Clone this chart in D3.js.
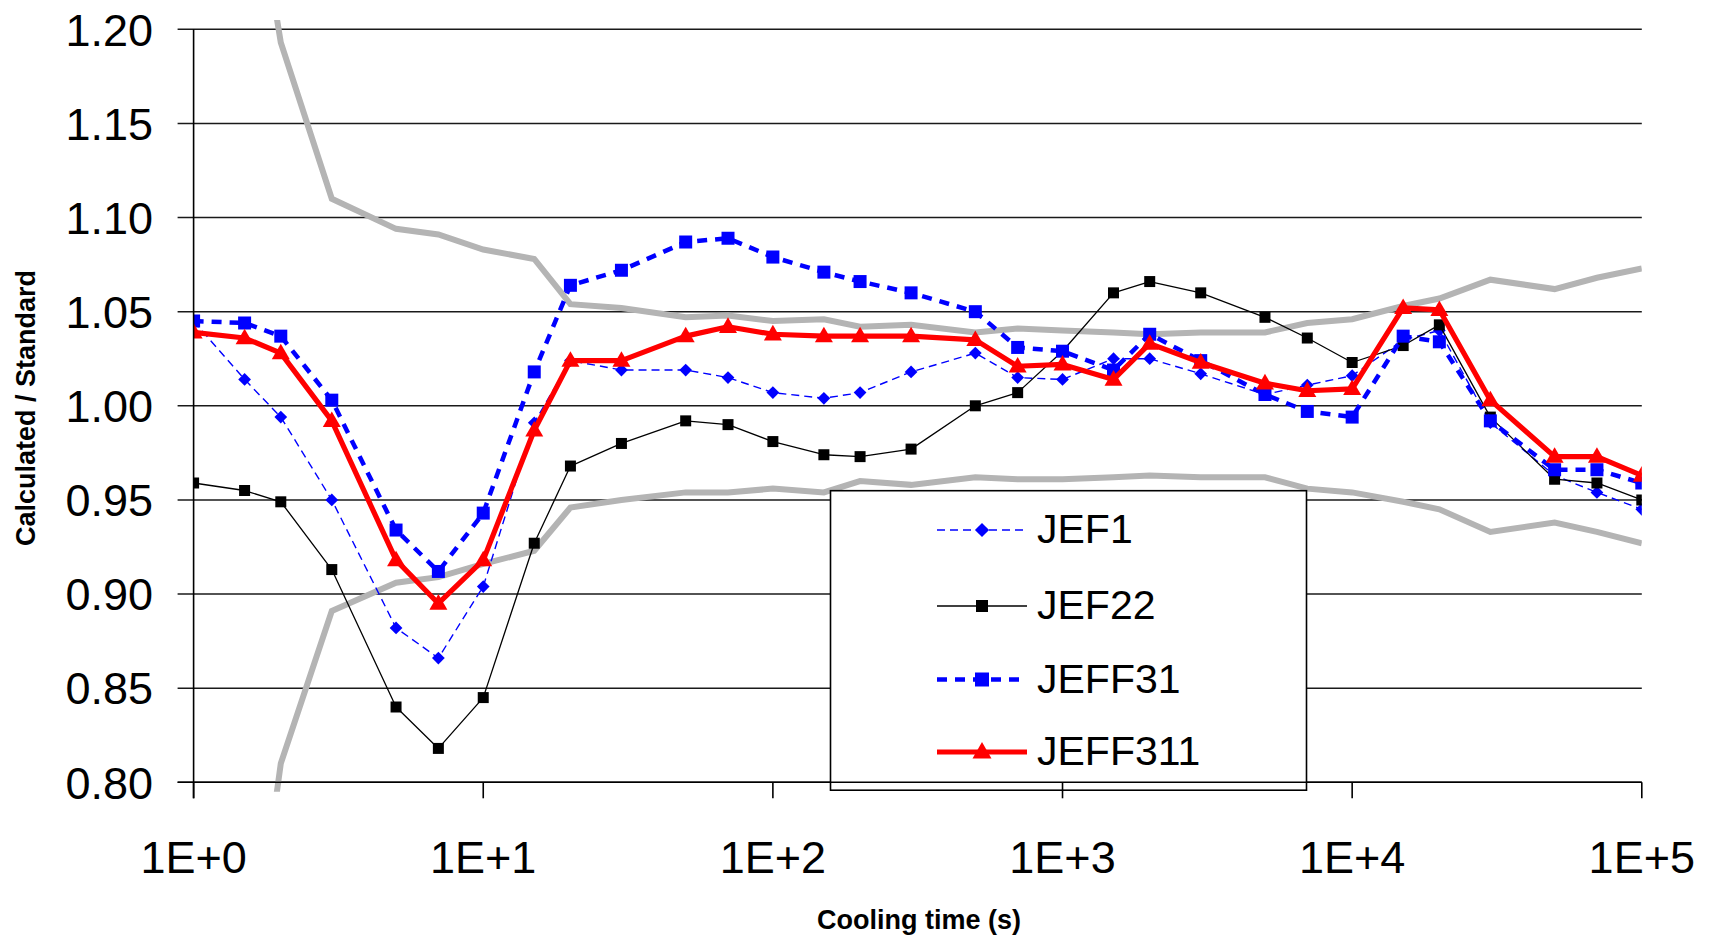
<!DOCTYPE html>
<html>
<head>
<meta charset="utf-8">
<script src="https://cdn.jsdelivr.net/npm/d3@7"></script>
<style>
  html, body { margin: 0; padding: 0; background: #fff; }
  svg { display: block; }
  text { font-family: "Liberation Sans", Arial, sans-serif; fill: #000; }
</style>
</head>
<body>
<svg id="chart" width="1715" height="935"></svg>
<script>
// ---------------- data ----------------
const times = [1, 1.5, 2, 3, 5, 7, 10, 15, 20, 30, 50, 70, 100, 150, 200, 300, 500, 700,
  1000, 1500, 2000, 3000, 5000, 7000, 10000, 15000, 20000, 30000, 50000, 70000, 100000];

const jef1 = [1.045, 1.014, 0.994, 0.950, 0.882, 0.866, 0.904, 0.991, 1.024, 1.019, 1.019, 1.015,
  1.007, 1.004, 1.007, 1.018, 1.028, 1.015, 1.014, 1.025, 1.025, 1.017, 1.006, 1.011, 1.016,
  1.035, 1.040, 0.991, 0.963, 0.954, 0.945];

const jef22 = [0.959, 0.955, 0.949, 0.913, 0.840, 0.818, 0.845, 0.927, 0.968, 0.980, 0.992, 0.990,
  0.981, 0.974, 0.973, 0.977, 1.000, 1.007, 1.029, 1.060, 1.066, 1.060, 1.047, 1.036, 1.023,
  1.032, 1.043, 0.994, 0.961, 0.959, 0.950];

const jeff31 = [1.045, 1.044, 1.037, 1.003, 0.934, 0.912, 0.943, 1.018, 1.064, 1.072, 1.087, 1.089,
  1.079, 1.071, 1.066, 1.060, 1.050, 1.031, 1.029, 1.019, 1.038, 1.024, 1.006, 0.997, 0.994,
  1.037, 1.034, 0.992, 0.966, 0.966, 0.959];

const jeff311 = [1.039, 1.036, 1.028, 0.992, 0.918, 0.895, 0.918, 0.987, 1.024, 1.024, 1.037, 1.042,
  1.038, 1.037, 1.037, 1.037, 1.035, 1.021, 1.022, 1.014, 1.033, 1.023, 1.012, 1.008, 1.009,
  1.052, 1.051, 1.003, 0.973, 0.973, 0.963];

// uncertainty band (grey lines, not in legend)
const bandTimes = [1.5, 2, 3, 5, 7, 10, 15, 20, 30, 50, 70, 100, 150, 200, 300, 500, 700,
  1000, 1500, 2000, 3000, 5000, 7000, 10000, 15000, 20000, 30000, 50000, 70000, 100000];
const bandUpper = [1.31, 1.193, 1.110, 1.094, 1.091, 1.083, 1.078, 1.054, 1.052, 1.047, 1.048, 1.045,
  1.046, 1.042, 1.043, 1.039, 1.041, 1.040, 1.039, 1.038, 1.039, 1.039, 1.044, 1.046, 1.053,
  1.057, 1.067, 1.062, 1.068, 1.073];
const bandLower = [0.67, 0.810, 0.891, 0.906, 0.909, 0.916, 0.923, 0.946, 0.950, 0.954, 0.954, 0.956,
  0.954, 0.960, 0.958, 0.962, 0.961, 0.961, 0.962, 0.963, 0.962, 0.962, 0.956, 0.954, 0.949,
  0.945, 0.933, 0.938, 0.933, 0.927];

const yTicks = [0.80, 0.85, 0.90, 0.95, 1.00, 1.05, 1.10, 1.15, 1.20];
const xTicks = [1, 10, 100, 1000, 10000, 100000];
const xTickLabels = ["1E+0", "1E+1", "1E+2", "1E+3", "1E+4", "1E+5"];
const seriesNames = ["JEF1", "JEF22", "JEFF31", "JEFF311"];
const xTitle = "Cooling time (s)";
const yTitle = "Calculated / Standard";

// ---------------- layout ----------------
const svg = d3.select("#chart");
const x = d3.scaleLog().domain([1, 1e5]).range([193.6, 1641.8]);
const y = d3.scaleLinear().domain([0.80, 1.20]).range([782.3, 29.3]);

const styles = [
  { data: jef1,   color: "#0000ff", width: 1.4, dash: "8,5", symbol: "diamond", msize: 9 },
  { data: jef22,  color: "#000000", width: 1.3, dash: null,  symbol: "square",  msize: 11 },
  { data: jeff31, color: "#0000ff", width: 4.5, dash: "10,8", symbol: "square",  msize: 13 },
  { data: jeff311,color: "#ff0000", width: 5.2, dash: null,  symbol: "triangle",msize: 18 }
];

function markerPath(sym, s) {
  if (sym === "square") return d3.symbol(d3.symbolSquare, s * s)();
  if (sym === "diamond") return d3.symbol(d3.symbolSquare, s * s)();
  return d3.symbol(d3.symbolTriangle, Math.sqrt(3) / 4 * s * s)();
}
function markerTransform(sym, px, py) {
  if (sym === "diamond") return `translate(${px},${py}) rotate(45)`;
  if (sym === "triangle") return `translate(${px},${py + 1})`;
  return `translate(${px},${py})`;
}

// clip (plot area is slightly taller than axis range)
svg.append("defs").append("clipPath").attr("id", "plotclip")
  .append("rect")
  .attr("x", x(1)).attr("width", x(1e5) - x(1))
  .attr("y", y(1.205)).attr("height", y(0.795) - y(1.205));

// gridlines (extending left as tick marks)
svg.append("g").selectAll("line").data(yTicks).join("line")
  .attr("x1", x(1) - 16).attr("x2", x(1e5))
  .attr("y1", d => y(d)).attr("y2", d => y(d))
  .attr("stroke", "#1a1a1a").attr("stroke-width", 1.6);

// y tick labels
svg.append("g").selectAll("text").data(yTicks).join("text")
  .attr("x", 153).attr("y", d => y(d) + 16.3)
  .attr("text-anchor", "end")
  .style("font-size", "45px")
  .text(d => d3.format(".2f")(d));

const plot = svg.append("g").attr("clip-path", "url(#plotclip)");

// grey band
const bandLine = d3.line().x((d, i) => x(bandTimes[i])).y(d => y(d));
[bandUpper, bandLower].forEach(b => {
  plot.append("path").datum(b)
    .attr("d", bandLine)
    .attr("fill", "none").attr("stroke", "#b4b4b4")
    .attr("stroke-width", 6).attr("stroke-linejoin", "miter");
});

// series
const line = d3.line().x((d, i) => x(times[i])).y(d => y(d));
styles.forEach(s => {
  const g = plot.append("g");
  g.append("path").datum(s.data)
    .attr("d", line)
    .attr("fill", "none").attr("stroke", s.color)
    .attr("stroke-width", s.width)
    .attr("stroke-dasharray", s.dash)
    .attr("stroke-linejoin", "round");
  g.selectAll("path.m").data(s.data).join("path")
    .attr("class", "m")
    .attr("d", markerPath(s.symbol, s.msize))
    .attr("transform", (d, i) => markerTransform(s.symbol, x(times[i]), y(d)))
    .attr("fill", s.color);
});

// legend
const lg = svg.append("g");
lg.append("rect")
  .attr("x", 830.5).attr("y", 490.7).attr("width", 476).attr("height", 299.5)
  .attr("fill", "#fff").attr("stroke", "#000").attr("stroke-width", 1.6);
const rowsY = [530, 606, 679.5, 752];
styles.forEach((s, i) => {
  const ry = rowsY[i];
  lg.append("line")
    .attr("x1", 937).attr("x2", 1027).attr("y1", ry).attr("y2", ry)
    .attr("stroke", s.color).attr("stroke-width", s.width)
    .attr("stroke-dasharray", s.dash);
  lg.append("path")
    .attr("d", markerPath(s.symbol, s.msize + 1))
    .attr("transform", markerTransform(s.symbol, 982, ry))
    .attr("fill", s.color);
  lg.append("text")
    .attr("x", 1037).attr("y", ry + 13)
    .style("font-size", "41px")
    .text(seriesNames[i]);
});

// axes lines (drawn on top)
const ax = svg.append("g");
ax.append("line")
  .attr("x1", x(1)).attr("x2", x(1)).attr("y1", y(1.20)).attr("y2", y(0.80) + 16)
  .attr("stroke", "#000").attr("stroke-width", 1.6);
ax.append("line")
  .attr("x1", x(1) - 16).attr("x2", x(1e5)).attr("y1", y(0.80)).attr("y2", y(0.80))
  .attr("stroke", "#000").attr("stroke-width", 1.6);
ax.selectAll("line.xt").data(xTicks).join("line")
  .attr("class", "xt")
  .attr("x1", d => x(d)).attr("x2", d => x(d))
  .attr("y1", y(0.80)).attr("y2", y(0.80) + 16)
  .attr("stroke", "#000").attr("stroke-width", 1.6);
ax.selectAll("text.xl").data(xTicks).join("text")
  .attr("class", "xl")
  .attr("x", d => x(d)).attr("y", 873)
  .attr("text-anchor", "middle")
  .style("font-size", "45px")
  .text((d, i) => xTickLabels[i]);

// axis titles
svg.append("text")
  .attr("x", 919).attr("y", 929)
  .attr("text-anchor", "middle")
  .style("font-size", "27px").style("font-weight", "bold")
  .text(xTitle);
svg.append("text")
  .attr("transform", "translate(35,408) rotate(-90)")
  .attr("text-anchor", "middle")
  .style("font-size", "27px").style("font-weight", "bold")
  .text(yTitle);
</script>
</body>
</html>
